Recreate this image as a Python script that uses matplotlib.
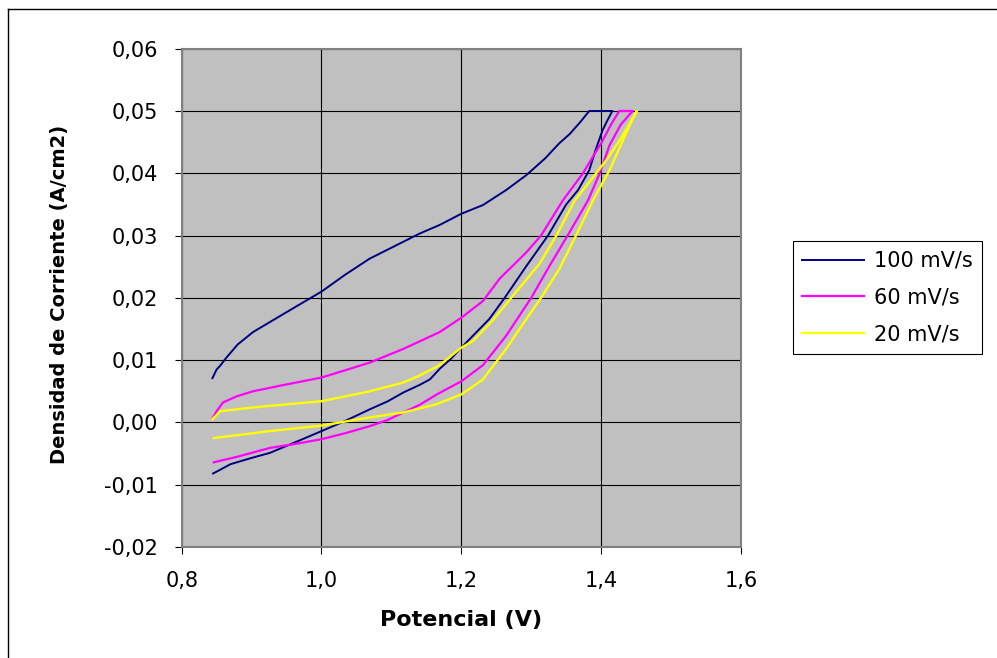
import matplotlib.pyplot as plt
from matplotlib.lines import Line2D
from matplotlib.ticker import FuncFormatter, MultipleLocator

# Voltammetry curves (potential in V, current density in A/cm2)
v_100 = [0.845, 0.870, 0.900, 0.926, 0.960, 1.000, 1.035, 1.069, 1.095, 1.117, 1.140,
         1.155, 1.170, 1.185, 1.200, 1.220, 1.240, 1.262, 1.293, 1.324, 1.350, 1.367,
         1.383, 1.392, 1.402, 1.409, 1.416, 1.383, 1.370, 1.355, 1.340, 1.320, 1.293,
         1.264, 1.231, 1.200, 1.169, 1.140, 1.117, 1.069, 1.035, 1.000, 0.950, 0.902,
         0.880, 0.864, 0.855, 0.850, 0.844]
j_100 = [-0.0082, -0.0067, -0.0057, -0.0049, -0.0033, -0.0014, 0.0003, 0.0021, 0.0034,
         0.0048, 0.0060, 0.0069, 0.0087, 0.0102, 0.0120, 0.0143, 0.0166, 0.0200, 0.0251,
         0.0300, 0.0350, 0.0373, 0.0405, 0.0437, 0.0469, 0.0485, 0.0500, 0.0500, 0.0482,
         0.0463, 0.0448, 0.0424, 0.0397, 0.0373, 0.0349, 0.0335, 0.0317, 0.0303, 0.0290,
         0.0263, 0.0238, 0.0210, 0.0177, 0.0145, 0.0125, 0.0104, 0.0091, 0.0085, 0.0071]

v_60 = [0.846, 0.880, 0.926, 0.960, 1.000, 1.035, 1.069, 1.095, 1.117, 1.140, 1.165,
        1.200, 1.231, 1.264, 1.300, 1.326, 1.352, 1.381, 1.398, 1.412, 1.428, 1.445,
        1.426, 1.415, 1.400, 1.390, 1.374, 1.345, 1.314, 1.293, 1.255, 1.231, 1.200,
        1.169, 1.117, 1.069, 1.000, 0.950, 0.902, 0.879, 0.859, 0.850, 0.844]
j_60 = [-0.0064, -0.0055, -0.0041, -0.0035, -0.0027, -0.0017, -0.0006, 0.0004, 0.0016,
        0.0028, 0.0045, 0.0066, 0.0092, 0.0139, 0.0200, 0.0251, 0.0300, 0.0356, 0.0400,
        0.0445, 0.0478, 0.0500, 0.0500, 0.0480, 0.0448, 0.0430, 0.0400, 0.0356, 0.0300,
        0.0273, 0.0231, 0.0195, 0.0168, 0.0145, 0.0118, 0.0096, 0.0072, 0.0061, 0.0050,
        0.0042, 0.0032, 0.0018, 0.0006]

v_20 = [0.846, 0.926, 1.000, 1.069, 1.117, 1.164, 1.200, 1.231, 1.264, 1.293, 1.314,
        1.340, 1.364, 1.390, 1.412, 1.426, 1.440, 1.451, 1.440, 1.426, 1.410, 1.393,
        1.362, 1.336, 1.312, 1.275, 1.245, 1.217, 1.200, 1.169, 1.140, 1.117, 1.069,
        1.000, 0.950, 0.902, 0.855, 0.844]
j_20 = [-0.0025, -0.0014, -0.0005, 0.0008, 0.0016, 0.0029, 0.0045, 0.0069, 0.0118,
        0.0166, 0.0200, 0.0246, 0.0300, 0.0360, 0.0405, 0.0440, 0.0475, 0.0500, 0.0478,
        0.0452, 0.0425, 0.0400, 0.0356, 0.0300, 0.0255, 0.0205, 0.0164, 0.0131, 0.0120,
        0.0092, 0.0075, 0.0064, 0.0050, 0.0034, 0.0029, 0.0024, 0.0018, 0.0005]

labels = ['100 mV/s', '60 mV/s', '20 mV/s']
colors = ['#000080', '#FF00FF', '#FFFF00']

fig = plt.figure(figsize=(9.97, 6.58), dpi=100)
ax = fig.add_axes([0.1822, 0.1687, 0.5610, 0.7573])
ax.set_facecolor('#C0C0C0')

# Curves
ax.plot(v_100, j_100, color=colors[0], lw=1.4, label=labels[0])
ax.plot(v_60, j_60, color=colors[1], lw=1.6, label=labels[1])
ax.plot(v_20, j_20, color=colors[2], lw=1.7, label=labels[2])

ax.set_xlim(0.8, 1.6)
ax.set_ylim(-0.02, 0.06)
ax.xaxis.set_major_locator(MultipleLocator(0.2))
ax.yaxis.set_major_locator(MultipleLocator(0.01))


def comma_fmt(decimals):
    def f(v, pos):
        if abs(v) < 1e-9:
            v = 0.0
        return f"{v:.{decimals}f}".replace('.', ',')
    return FuncFormatter(f)


ax.xaxis.set_major_formatter(comma_fmt(1))
ax.yaxis.set_major_formatter(comma_fmt(2))

ax.grid(True, color='black', lw=0.8)
ax.set_axisbelow(True)
for s in ax.spines.values():
    s.set_color('#808080')
    s.set_linewidth(1.5)
ax.tick_params(direction='out', length=5, width=0.8, color='black', labelsize=15)
ax.tick_params(axis='x', pad=12)
ax.tick_params(axis='y', pad=12)

ax.set_xlabel('Potencial (V)', fontsize=16, fontweight='bold')
ax.xaxis.set_label_coords(0.50, -0.146)
ax.xaxis.label.set_va('center')
ax.set_ylabel('Densidad de Corriente (A/cm2)', fontsize=14, fontweight='bold')
ax.yaxis.set_label_coords(-0.218, 0.506)
ax.yaxis.label.set_va('center')

leg = ax.legend(loc='upper left', bbox_to_anchor=(0.795, 0.633),
                bbox_transform=fig.transFigure, borderaxespad=0,
                fontsize=15, handlelength=3.0, handletextpad=0.45,
                labelspacing=0.8, borderpad=0.45, fancybox=False,
                framealpha=1, edgecolor='black')
leg.get_frame().set_linewidth(0.8)

# Outer chart border (left and top edges visible)
fig.add_artist(Line2D([0.008, 0.008], [0.0, 0.986], color='black', lw=1.0,
                      transform=fig.transFigure))
fig.add_artist(Line2D([0.008, 1.0], [0.986, 0.986], color='black', lw=1.0,
                      transform=fig.transFigure))

plt.savefig('out.png', dpi=100)
